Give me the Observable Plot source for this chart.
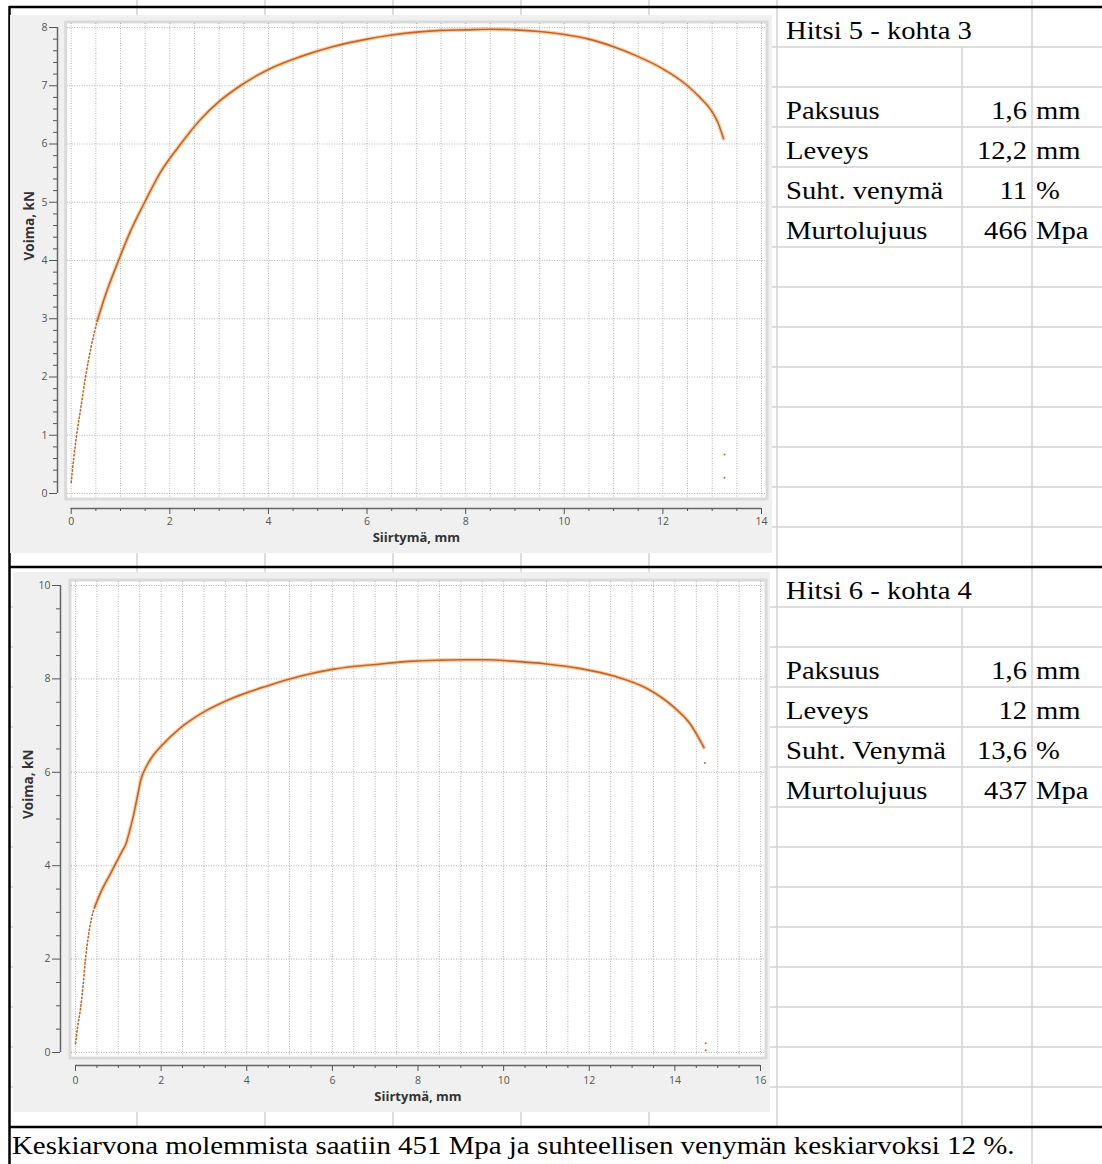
<!DOCTYPE html>
<html><head><meta charset="utf-8">
<script src="https://cdn.jsdelivr.net/npm/d3@7"></script>
<script src="https://cdn.jsdelivr.net/npm/@observablehq/plot@0.6"></script>
<style>
html,body{margin:0;padding:0;background:#fff;}
#page{position:relative;width:1102px;height:1164px;overflow:hidden;background:#fff;}
#bg{position:absolute;left:0;top:0;}
.panel{position:absolute;background:#f0f0f0;}
.panel svg{display:block;}
</style></head><body><div id="page"></div>
<script>
// ---------- DATA ----------
// Hitsi 5 - kohta 3 : displacement (mm) vs force (kN)
const hitsi5X = [0, 0.05, 0.11, 0.2, 0.29, 0.4, 0.53, 0.7, 0.96, 1.2, 1.49, 1.8, 2.22, 2.6, 3.0, 3.43, 4.0, 4.65, 5.3, 6.0, 6.5, 7.0, 7.5, 8.0, 8.5, 9.0, 9.5, 10.0, 10.5, 11.0, 11.5, 12.0, 12.5, 12.75, 13.0, 13.12, 13.23];
const hitsi5Y = [0.19, 0.6, 1.0, 1.5, 2.0, 2.5, 2.97, 3.42, 4.0, 4.5, 5.0, 5.5, 6.0, 6.4, 6.73, 7.0, 7.28, 7.5, 7.67, 7.8, 7.87, 7.92, 7.95, 7.96, 7.97, 7.96, 7.93, 7.88, 7.8, 7.67, 7.5, 7.29, 7.0, 6.8, 6.55, 6.36, 6.09];
const hitsi5StrayX = [13.25, 13.25];
const hitsi5StrayY = [0.67, 0.27];
// Hitsi 6 - kohta 4
const hitsi6X = [0, 0.05, 0.12, 0.18, 0.23, 0.31, 0.38, 0.45, 0.6, 0.8, 0.97, 1.1, 1.17, 1.28, 1.36, 1.45, 1.52, 1.67, 1.82, 1.99, 2.45, 2.92, 3.7, 4.48, 5.26, 6.03, 7.13, 7.9, 8.5, 9.07, 9.6, 10.2, 11.0, 11.8, 12.58, 13.36, 13.97, 14.37, 14.68];
const hitsi6Y = [0.19, 0.55, 0.96, 1.45, 1.97, 2.55, 2.9, 3.12, 3.45, 3.8, 4.1, 4.33, 4.45, 4.8, 5.1, 5.5, 5.82, 6.15, 6.37, 6.55, 6.95, 7.25, 7.6, 7.85, 8.06, 8.21, 8.32, 8.38, 8.4, 8.41, 8.41, 8.38, 8.32, 8.22, 8.06, 7.79, 7.4, 7.02, 6.53];
const hitsi6StrayX = [14.7, 14.72, 14.72];
const hitsi6StrayY = [6.2, 0.2, 0.05];

// tick labels
const xTicks5 = [0, 2, 4, 6, 8, 10, 12, 14];
const yTicks5 = [0, 1, 2, 3, 4, 5, 6, 7, 8];
const xTicks6 = [0, 2, 4, 6, 8, 10, 12, 14, 16];
const yTicks6 = [0, 2, 4, 6, 8, 10];
const xLabel = "Siirtymä, mm";
const yLabel = "Voima, kN";

// tables
const table5Title = "Hitsi 5 - kohta 3";
const table5Labels = ["Paksuus", "Leveys", "Suht. venymä", "Murtolujuus"];
const table5Values = ["1,6", "12,2", "11", "466"];
const table5Units = ["mm", "mm", "%", "Mpa"];
const table6Title = "Hitsi 6 - kohta 4";
const table6Labels = ["Paksuus", "Leveys", "Suht. Venymä", "Murtolujuus"];
const table6Values = ["1,6", "12", "13,6", "437"];
const table6Units = ["mm", "mm", "%", "Mpa"];
const footerText = "Keskiarvona molemmista saatiin 451 Mpa ja suhteellisen venymän keskiarvoksi 12 %.";

// ---------- SPREADSHEET BACKGROUND ----------
const page = document.getElementById("page");
const NS = "http://www.w3.org/2000/svg";
const bg = document.createElementNS(NS, "svg");
bg.setAttribute("id", "bg");
bg.setAttribute("width", 1102);
bg.setAttribute("height", 1164);
page.appendChild(bg);
function line(x1, y1, x2, y2, stroke, w) {
  const l = document.createElementNS(NS, "line");
  l.setAttribute("x1", x1); l.setAttribute("y1", y1);
  l.setAttribute("x2", x2); l.setAttribute("y2", y2);
  l.setAttribute("stroke", stroke); l.setAttribute("stroke-width", w);
  bg.appendChild(l);
}
function text(str, x, y, anchor, sx) {
  const t = document.createElementNS(NS, "text");
  t.setAttribute("transform", `translate(${x},${y}) scale(${sx || 1.1},1)`);
  t.setAttribute("text-anchor", anchor || "start");
  t.setAttribute("font-family", "Liberation Serif, Times New Roman, serif");
  t.setAttribute("font-size", 26);
  t.setAttribute("fill", "#000");
  t.textContent = str;
  bg.appendChild(t);
}
const grid = "#d2d2d2";
const sections = [7, 567];
for (const b of sections) {
  for (let r = 1; r < 14; r++) line(9, b + 40 * r, 1102, b + 40 * r, grid, 1.5);
  line(962, b + 40, 962, b + 560, grid, 1.5);
}
for (const cx of [137, 265, 393, 521, 649, 777]) line(cx, 0, cx, 1127, grid, 1.5);
line(1032, 0, 1032, 1164, grid, 1.5);
line(9, 7, 1102, 7, "#000", 2.5);
line(9, 567, 1102, 567, "#000", 2.5);
line(9, 1127, 1102, 1127, "#000", 2.5);
line(9.5, 6, 9.5, 1164, "#000", 2.5);

function table(base, title, labels, values, units) {
  text(title, 786, base + 40 - 8);
  labels.forEach((lab, i) => {
    const yb = base + 40 * (i + 3) - 8;
    text(lab, 786, yb);
    text(values[i], 1027, yb, "end");
    text(units[i], 1036, yb);
  });
}
table(7, table5Title, table5Labels, table5Values, table5Units);
table(567, table6Title, table6Labels, table6Values, table6Units);
text(footerText, 12, 1154, "start", 1.112);

// ---------- CHARTS ----------
function chart(o) {
  const data = o.xs.map((x, i) => ({x, y: o.ys[i]}));
  const stray = o.strayX.map((x, i) => ({x, y: o.strayY[i]}));
  const xGrid = d3.range(o.xDomain[0], o.xDomain[1] + 0.001, 0.5);
  const xMinor = xGrid.filter(v => !o.xTicks.includes(v));
  const yMinor = d3.range(o.yDomain[0], o.yDomain[1] + 0.001, o.yMinorStep)
    .map(v => +v.toFixed(3)).filter(v => !o.yTicks.includes(v));
  const core = "#c8641f";
  return Plot.plot({
    width: o.width, height: o.height,
    marginLeft: o.mL, marginRight: o.mR, marginTop: o.mT, marginBottom: o.mB,
    style: {background: "transparent", overflow: "visible", fontFamily: "Open Sans, sans-serif", color: "#555"},
    x: {domain: o.xDomain, label: null},
    y: {domain: o.yDomain, label: null},
    marks: [
      Plot.frame({fill: "white", stroke: "#dadada", strokeWidth: 3, inset: -5.5}),
      Plot.ruleX(xGrid, {stroke: "#9a9a9a", strokeWidth: 1, strokeDasharray: "1,1.5", strokeOpacity: 0.75, insetTop: -4, insetBottom: -4}),
      Plot.ruleY(o.yTicks, {stroke: "#9a9a9a", strokeWidth: 1, strokeDasharray: "1,1.5", strokeOpacity: 0.75, insetLeft: -4, insetRight: -4}),
      Plot.ruleX([o.xDomain[0]], {dx: o.yAxisDx, stroke: "#666", strokeWidth: 1.5}),
      Plot.ruleY([o.yDomain[0]], {dy: o.xAxisDy, stroke: "#666", strokeWidth: 1.5}),
      Plot.axisY({ticks: o.yTicks, tickSize: 8, tickPadding: 2, dx: o.yAxisDx, fontSize: 10.5, label: null}),
      Plot.axisY({ticks: yMinor, tickSize: 4, tickFormat: () => "", dx: o.yAxisDx, label: null}),
      Plot.axisX({ticks: o.xTicks, tickSize: 6, tickPadding: o.xTickPad, dy: o.xAxisDy, fontSize: 10.5, label: null}),
      Plot.axisX({ticks: xMinor, tickSize: 3, tickFormat: () => "", dy: o.xAxisDy, label: null}),
      Plot.text([xLabel], {text: d => d, frameAnchor: "bottom", dy: o.xLabelDy, fontWeight: "bold", fontSize: 13, fill: "#333"}),
      Plot.text([yLabel], {text: d => d, frameAnchor: "left", dx: o.yLabelDx, rotate: -90, fontWeight: "bold", fontSize: 13.5, fill: "#333"}),
      Plot.line(data, {x: "x", y: "y", filter: d => d.x >= o.dottedUntil, stroke: "#f4a462", strokeWidth: 4, strokeOpacity: 0.5, curve: "monotone-x"}),
      Plot.line(data, {x: "x", y: "y", filter: d => d.x >= o.dottedUntil, stroke: core, strokeWidth: 1.6, curve: "monotone-x"}),
      Plot.line(data, {x: "x", y: "y", filter: d => d.x <= o.dottedUntil, stroke: core, strokeWidth: 1.6, strokeDasharray: "1.3,2.5", curve: "monotone-x"}),
      Plot.dot(stray, {x: "x", y: "y", r: 1, fill: core, stroke: null})
    ]
  });
}

function place(svg, left, top, w, h) {
  const div = document.createElement("div");
  div.className = "panel";
  div.style.left = left + "px"; div.style.top = top + "px";
  div.style.width = w + "px"; div.style.height = h + "px";
  div.appendChild(svg);
  page.appendChild(div);
}

place(chart({
  xs: hitsi5X, ys: hitsi5Y, strayX: hitsi5StrayX, strayY: hitsi5StrayY, dottedUntil: 0.53,
  xDomain: [0, 14], yDomain: [0, 8], xTicks: xTicks5, yTicks: yTicks5, yMinorStep: 0.2,
  width: 762, height: 538, mL: 60.7, mR: 11, mT: 12, mB: 60,
  yAxisDx: -13.7, xAxisDy: 15, xTickPad: 3, xLabelDy: 48, yLabelDx: -41.7
}), 10, 15, 762, 538);

place(chart({
  xs: hitsi6X, ys: hitsi6Y, strayX: hitsi6StrayX, strayY: hitsi6StrayY, dottedUntil: 0.45,
  xDomain: [0, 16], yDomain: [0, 10], xTicks: xTicks6, yTicks: yTicks6, yMinorStep: 0.5,
  width: 757, height: 540, mL: 62, mR: 10, mT: 13, mB: 60,
  yAxisDx: -15, xAxisDy: 13, xTickPad: 5, xLabelDy: 48, yLabelDx: -47
}), 13, 572, 757, 540);
</script></body></html>
